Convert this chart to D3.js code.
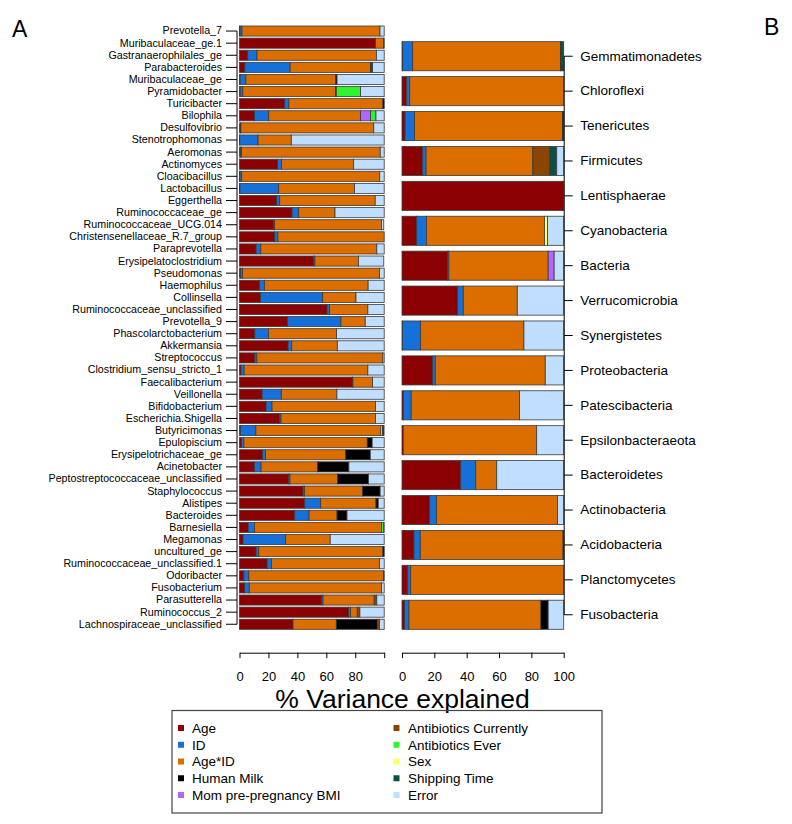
<!DOCTYPE html>
<html><head><meta charset="utf-8">
<script src="https://cdn.jsdelivr.net/npm/d3@7"></script>
<style>body{margin:0;background:#fff} svg{display:block} text{font-family:"Liberation Sans",Arial,sans-serif;fill:#000}</style>
</head><body><svg id="chart" width="792" height="824"></svg>
<script>
// ---------- DATA ----------
const components = ["Age","ID","Age*ID","Human Milk","Mom pre-pregnancy BMI","Antibiotics Currently","Antibiotics Ever","Sex","Shipping Time","Error"];
const componentColors = ["#8B0000","#1570DA","#DC6E00","#000000","#B266FF","#8B4500","#2EF52E","#FFFF66","#0A4F48","#C0DEFF"];

const genera = ["Prevotella_7","Muribaculaceae_ge.1","Gastranaerophilales_ge","Parabacteroides","Muribaculaceae_ge","Pyramidobacter","Turicibacter","Bilophila","Desulfovibrio","Stenotrophomonas","Aeromonas","Actinomyces","Cloacibacillus","Lactobacillus","Eggerthella","Ruminococcaceae_ge","Ruminococcaceae_UCG.014","Christensenellaceae_R.7_group","Paraprevotella","Erysipelatoclostridium","Pseudomonas","Haemophilus","Collinsella","Ruminococcaceae_unclassified","Prevotella_9","Phascolarctobacterium","Akkermansia","Streptococcus","Clostridium_sensu_stricto_1","Faecalibacterium","Veillonella","Bifidobacterium","Escherichia.Shigella","Butyricimonas","Epulopiscium","Erysipelotrichaceae_ge","Acinetobacter","Peptostreptococcaceae_unclassified","Staphylococcus","Alistipes","Bacteroides","Barnesiella","Megamonas","uncultured_ge","Ruminococcaceae_unclassified.1","Odoribacter","Fusobacterium","Parasutterella","Ruminococcus_2","Lachnospiraceae_unclassified"];
const genusAge   = [0.3,94.0,5.7,3.7,0.5,0.5,31.3,10.3,0.7,0.2,0.7,26.2,0.3,0.3,25.7,36.3,23.7,24.4,11.5,51.3,0.7,13.8,14.5,60.5,33.1,10.6,33.6,10.6,1.1,77.9,15.6,18.4,27.8,0.7,1.4,15.9,10.3,33.8,43.9,45.1,38.2,6.0,2.5,11.5,19.1,3.0,3.4,56.6,75.4,37.0];
const genusID    = [1.4,0,6.4,31.3,3.9,1.8,2.8,9.9,0.3,12.6,0.7,2.8,1.2,26.8,2.1,4.6,0.6,2.1,3.2,0.8,1.4,3.4,43.0,1.8,37.0,9.4,2.5,1.4,2.1,0.5,13.3,4.1,0.9,10.6,1.6,2.1,4.6,1.1,1.1,11.0,9.9,4.4,29.4,1.8,3.0,3.4,3.4,1.1,1.4,0];
const genusAgeID = [95.4,5.5,82.5,55.6,62.1,64.1,65.0,63.5,91.8,23.0,95.9,49.9,95.4,52.4,66.0,25.1,73.8,73.5,80.2,30.1,94.7,71.7,23.0,26.4,16.8,47.1,31.5,87.1,85.5,13.6,38.4,71.5,65.3,86.4,85.3,55.4,39.1,32.9,40.0,38.2,19.3,87.8,30.8,85.8,74.7,93.1,91.4,35.4,4.6,29.9];
const genusMilk  = [0,0.5,0,0,0.9,0.5,0.9,0,0,0,0,0,0,0,0,0,0,0,0,0,0,0,0,0,0,0,0,0,0,0,0,0,0,0,3.4,17.0,21.6,21.4,12.2,1.6,6.9,0,0,0.9,0,0.5,0,0,0,28.3];
const genusBMI   = [0,0,0,0,0,0,0,6.9,0,0,0,0,0,0,0,0,0,0,0,0,0,0,0,0,0,0,0,0,0,0,0,0,0,0,0,0,0,0,0,0,0,0,0,0,0,0,0,0,0,0];
const genusAbxCur= [0,0,0,0,0,0,0,0,0,0,0,0,0,0,0,0,0,0,0,0,0,0,0,0,0,0,0,0,0,0,0,0,0,0,0,0,0,0,0,0,0,0,0,0,0,0,0,1.8,1.8,1.6];
const genusAbxEv = [0,0,0,0,0,16.8,0,3.7,0,0,0,0,0,0,0,0,0,0,0,0,0,0,0,0,0,0,0,0,0,0,0,0,0,0,0,0,0,0,0,0,0,1.4,0,0,0,0,0,0,0,0];
const genusSex   = [0,0,0,0,0,0,0,0,0,0,0,0,0,0,0,0,0,0,0,0,0,0,0,0,0,0,0,0,0,0,0,0,0,1.1,0,0,0,0,0,0,0,0,0,0,0,0,0,0,0,0];
const genusShip  = [0,0,0,1.4,0,0,0,0,0,0,0,0,0,0,0,0,0,0,0,0,0,0,0,0,0,0,0,0,0,0,0,0,0,1.1,0,0,0,0,0,0,0,0,0,0,0,0,0,0,0,0];
const genusError = [2.9,0,5.4,8.0,32.6,16.3,0,5.7,7.2,64.2,2.7,21.1,3.1,20.5,6.2,34.0,1.6,0,5.1,17.5,3.2,11.1,19.5,11.3,13.1,32.9,32.4,0.9,11.3,8.0,32.7,6.0,6.0,0,8.3,9.6,24.4,10.8,2.8,4.1,25.7,0.4,37.3,0,3.2,0,1.8,5.1,16.8,3.2];

const phyla = ["Gemmatimonadetes","Chloroflexi","Tenericutes","Firmicutes","Lentisphaerae","Cyanobacteria","Bacteria","Verrucomicrobia","Synergistetes","Proteobacteria","Patescibacteria","Epsilonbacteraeota","Bacteroidetes","Actinobacteria","Acidobacteria","Planctomycetes","Fusobacteria"];
const phylumAge   = [0.4,2.9,1.9,12.8,100,9.1,28.2,34.4,0.3,19.0,0.8,0.8,36.3,17.1,7.4,3.5,1.6];
const phylumID    = [6.2,1.9,5.8,2.1,0,6.0,0.8,3.5,11.2,1.6,4.9,0,9.3,4.3,3.9,1.9,2.7];
const phylumAgeID = [91.5,95.2,91.5,66.0,0,73.0,61.4,33.4,63.9,68.0,67.0,82.5,13.0,74.8,88.3,94.6,81.6];
const phylumMilk  = [0.4,0,0.8,0,0,0,0,0,0,0,0,0,0,0,0.4,0,4.5];
const phylumBMI   = [0,0,0,0,0,0,3.7,0,0,0,0,0,0,0,0,0,0];
const phylumAbxCur= [0,0,0,10.5,0,0,0,0,0,0,0,0,0,0,0,0,0];
const phylumAbxEv = [0,0,0,0,0,0,0,0,0,0,0,0,0,0,0,0,0];
const phylumSex   = [0,0,0,0,0,1.9,0,0,0,0,0,0,0,0,0,0,0];
const phylumShip  = [1.5,0,0,4.3,0,0,0,0,0,0,0,0,0,0,0,0,0];
const phylumError = [0,0,0,4.3,0,10.0,5.9,28.7,24.6,11.4,27.3,16.7,41.4,3.8,0,0,9.6];

const xTicks = [0,20,40,60,80,100];

// ---------- BUILD ----------
function makeTable(names, series){
  return names.map((n,i)=>{
    const row = {name:n};
    components.forEach((c,k)=>{ row[c] = series[k][i]; });
    return row;
  });
}
const genusTable = makeTable(genera,[genusAge,genusID,genusAgeID,genusMilk,genusBMI,genusAbxCur,genusAbxEv,genusSex,genusShip,genusError]);
const phylumTable = makeTable(phyla,[phylumAge,phylumID,phylumAgeID,phylumMilk,phylumBMI,phylumAbxCur,phylumAbxEv,phylumSex,phylumShip,phylumError]);

const color = d3.scaleOrdinal().domain(components).range(componentColors);
const stack = d3.stack().keys(components);
const svg = d3.select("#chart");

function panel(table, names, xRange, yRange, side, labelSize, tickLen, labelGap, hideLast){
  const x = d3.scaleLinear().domain([0,100]).range(xRange);
  const y = d3.scaleBand().domain(names).range(yRange).paddingInner(0.2/1.2).paddingOuter(0);
  const series = stack(table);
  const g = svg.append("g");
  g.selectAll("g.layer").data(series).join("g").attr("class","layer")
    .attr("fill", d=>color(d.key))
    .selectAll("rect").data(d=>d.filter(s=>s[1]-s[0]>0)).join("rect")
      .attr("x", d=>x(d[0]))
      .attr("width", d=>x(d[1])-x(d[0]))
      .attr("y", d=>y(d.data.name))
      .attr("height", y.bandwidth())
      .attr("stroke","#3a3a3a").attr("stroke-width",0.8);

  // category axis
  const axX = side==="left" ? xRange[0]-2.5 : xRange[1]+0.5;
  const ax = side==="left" ? d3.axisLeft(y) : d3.axisRight(y);
  ax.tickSize(tickLen).tickSizeOuter(0).tickPadding(labelGap);
  const ga = svg.append("g").attr("transform",`translate(${axX},0)`).call(ax);
  ga.select(".domain").remove();
  const c0 = y(names[0])+y.bandwidth()/2, c1 = y(names[names.length-1])+y.bandwidth()/2;
  ga.append("line").attr("y1",c0).attr("y2",c1).attr("stroke","#000");
  ga.selectAll(".tick line").attr("stroke","#000");
  ga.selectAll("text").style("font-size",labelSize+"px").attr("font-family",null);

  // value axis
  const bx = d3.axisBottom(x).tickValues(xTicks).tickSize(5.5).tickSizeOuter(0)
    .tickFormat(d=> (hideLast && d===100) ? "" : d);
  const gb = svg.append("g").attr("transform","translate(0,652.7)").call(bx);
  gb.selectAll("text").attr("y",28).attr("dy",null).style("font-size","13px").attr("font-family",null);
  gb.select(".domain").attr("stroke","#000");
  return {x,y};
}

panel(genusTable, genera, [239.5,384.2], [26,629.3], "left", 10.7, 11, 4, true);
panel(phylumTable, phyla, [402,563.7], [41.7,629.3], "right", 13.5, 8.5, 7.5, false);

// titles
svg.append("text").attr("x",402.5).attr("y",707.5).attr("text-anchor","middle")
  .style("font-size","26.5px").text("% Variance explained");
svg.append("text").attr("x",12).attr("y",37).style("font-size","23px").text("A");
svg.append("text").attr("x",764).attr("y",35).style("font-size","23px").text("B");

// legend
const lg = svg.append("g");
lg.append("rect").attr("x",172).attr("y",710.5).attr("width",430).attr("height",102.5)
  .attr("fill","none").attr("stroke","#444").attr("stroke-width",1.2);
const rowY = d3.scaleLinear().domain([0,4]).range([728,795]);
components.forEach((c,i)=>{
  const col = Math.floor(i/5), r = i%5;
  const sx = col===0 ? 181 : 396.5;
  const tx = col===0 ? 192 : 408;
  lg.append("rect").attr("x",sx-3).attr("y",rowY(r)-3).attr("width",6).attr("height",6).attr("fill",color(c));
  lg.append("text").attr("x",tx).attr("y",rowY(r)+4.8).style("font-size","13.5px").text(c);
});
</script></body></html>
